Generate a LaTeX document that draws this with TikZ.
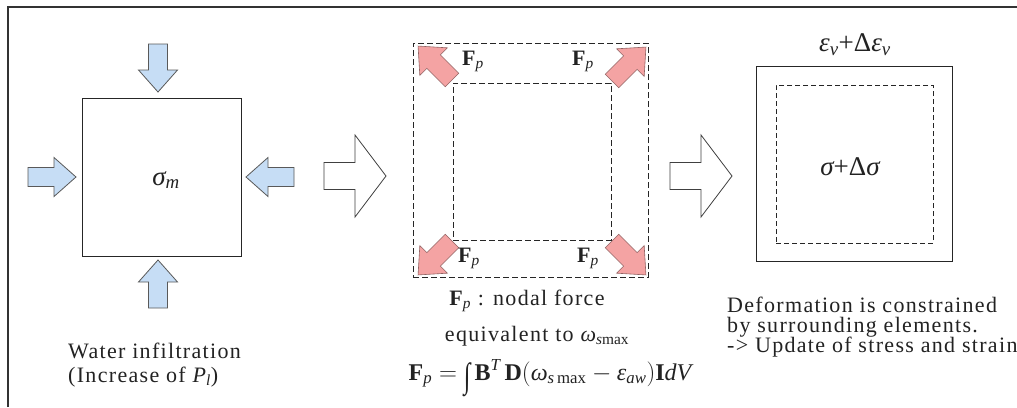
\documentclass[tikz,border=0pt]{standalone}
\usepackage{amsmath}
\usepackage{graphicx}
\usepackage{fontspec}
\setmainfont{Liberation Serif}
\newfontfamily\prose{Liberation Serif}[LetterSpace=6]
\newcommand{\iv}[1]{\text{\normalfont\itshape #1}}
\newcommand{\bv}[1]{\text{\normalfont\bfseries #1}}
\newcommand{\uv}[1]{\text{\normalfont #1}}
\newcommand{\bigint}{\text{\normalfont\raisebox{-7pt}{\scalebox{1}[1.45]{∫}}}}
\definecolor{arrblue}{HTML}{C6DDF5}
\definecolor{arrpink}{HTML}{F4A3A3}
\definecolor{inkgray}{HTML}{222222}
\tikzset{
  smallarrow/.pic={\draw[pic actions] (0,-9.5) -- (26,-9.5) -- (26,-19.5) -- (48,0) -- (26,19.5) -- (26,9.5) -- (0,9.5) -- cycle;},
  bigarrow/.pic={\draw[pic actions] (0,-13.5) -- (31,-13.5) -- (31,-41) -- (62,0) -- (31,41) -- (31,13.5) -- (0,13.5) -- cycle;},
  bluearr/.style={fill=arrblue, draw=black!65, line width=0.8pt, line join=miter},
  pinkarr/.style={fill=arrpink, draw=black!40!arrpink, line width=0.6pt},
  hollowarr/.style={fill=white, draw=black!75, line width=0.8pt},
  box/.style={draw=black!85, line width=0.9pt, inner sep=0pt},
  dashbox/.style={draw=black!85, line width=0.9pt, inner sep=0pt, dash pattern=on 6pt off 3pt},
  dashboxb/.style={draw=black!85, line width=0.8pt, inner sep=0pt, dash pattern=on 5pt off 3pt},
  frame/.style={draw=black!80, line width=1.5pt},
  prosetext/.style={inner sep=0pt, text=inkgray, font=\prose\fontsize{22}{24}\selectfont},
  formula/.style={inner sep=0pt, text=inkgray, font=\fontsize{24}{26}\selectfont},
  sym/.style={inner sep=0pt, text=inkgray, font=\fontsize{27}{30}\selectfont},
  fp/.style={inner sep=0pt, text=inkgray, font=\fontsize{22}{24}\selectfont},
}
\begin{document}
\begin{tikzpicture}[x=1pt,y=-1pt]
\useasboundingbox (0,0) rectangle (1017,407);
\fill[white] (0,0) rectangle (1017,407);
\draw[frame] (8,407) -- (8,7) -- (1017,7);

% ---- panel 1
\node[box, minimum width=159pt, minimum height=158pt] (sq1) at (161.5,177) {};
\node[sym] (sigm) at (166,180) {$\iv{σ}_{\iv{m}}$};
\pic[bluearr, rotate=-90] at (158,44) {smallarrow};
\pic[bluearr, rotate=90] at (158,308) {smallarrow};
\pic[bluearr] at (28,177) {smallarrow};
\pic[bluearr, rotate=180] at (294,177) {smallarrow};
\node[prosetext, anchor=base west] (w1) at (68,358) {Water infiltration};
\node[prosetext, anchor=base west] (w2) at (68,382) {(Increase of $\iv{P}_{\iv{l}}$)};

% ---- hollow arrows
\pic[hollowarr] at (324,176) {bigarrow};
\pic[hollowarr] at (670,176) {bigarrow};

% ---- panel 2
\node[dashbox, minimum width=235pt, minimum height=234pt] (out2) at (530.5,160) {};
\node[dashbox, minimum width=158pt, minimum height=157pt] (in2) at (532,161.5) {};
\pic[pinkarr, rotate=135] at (452,80) {smallarrow};
\pic[pinkarr, rotate=45] at (612,81) {smallarrow};
\pic[pinkarr, rotate=-135] at (452,241) {smallarrow};
\pic[pinkarr, rotate=-45] at (612,241) {smallarrow};
\node[fp, anchor=base west] (f1) at (462,65) {$\bv{F}_{\iv{p}}$};
\node[fp, anchor=base west] (f2) at (572,65) {$\bv{F}_{\iv{p}}$};
\node[fp, anchor=base west] (f3) at (458,262) {$\bv{F}_{\iv{p}}$};
\node[fp, anchor=base west] (f4) at (577,262) {$\bv{F}_{\iv{p}}$};
\node[prosetext, anchor=base] (t1) at (527,305) {$\bv{F}_{\iv{p}}$ : nodal force};
\node[prosetext, anchor=base] (t2) at (537,341) {equivalent to $\iv{ω}_{\iv{s}\uv{max}}$};
\node[formula, anchor=base] (t3) at (550,380) {$\bv{F}_{\iv{p}} = \bigint\,\bv{B}^{\iv{T}}\,\bv{D}(\iv{ω}_{\iv{s}\,\uv{max}} - \iv{ε}_{\iv{aw}})\bv{I}\iv{dV}$};

% ---- panel 3
\node[box, minimum width=196pt, minimum height=195pt] (sq3) at (854,163.5) {};
\node[dashboxb, minimum width=157pt, minimum height=158pt] (in3) at (854.5,164) {};
\node[sym] (eps) at (855,45) {$\iv{ε}_{\iv{v}}\uv{+Δ}\iv{ε}_{\iv{v}}$};
\node[sym] (sig2) at (850,167) {$\iv{σ}\uv{+Δ}\iv{σ}$};
\node[prosetext, anchor=base west] (r1) at (727,312) {Deformation is constrained};
\node[prosetext, anchor=base west] (r2) at (727,332) {by surrounding elements.};
\node[prosetext, anchor=base west] (r3) at (727,352) {-> Update of stress and strain};
\end{tikzpicture}
\end{document}
